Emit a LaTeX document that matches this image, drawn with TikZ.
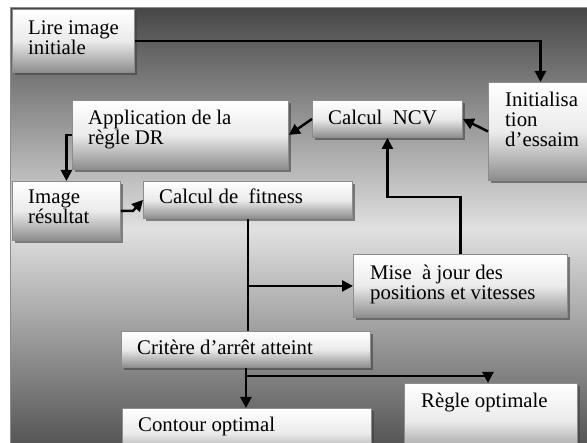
\documentclass[tikz,border=0pt]{standalone}
\usepackage{fontspec}
\setmainfont{Liberation Serif}
\usetikzlibrary{arrows.meta,shadows,calc}
\tikzset{
  box/.style={draw=black!45, line width=0.9pt, anchor=north west, inner sep=0pt,
    top color=white, bottom color=black!45, middle color=black!8,
    drop shadow={shadow xshift=3pt, shadow yshift=-3pt, fill=black!75, opacity=0.6}},
  txt/.style={anchor=base west, inner sep=0pt, font=\fontsize{20.8}{20}\selectfont},
  conn/.style={line width=2.4pt, -{Triangle[length=11pt,width=11pt]}},
  plain/.style={line width=2.4pt}
}
\begin{document}
\begin{tikzpicture}[x=1pt,y=-1pt]
\useasboundingbox (0,0) rectangle (587,443);
% background
\shade[shading angle=-45, top color=black!72, bottom color=black!68, middle color=black!12]
  (10,8) rectangle (600,450);
\draw[black!45, line width=1pt] (10,450) -- (10,8) -- (600,8);
% boxes
\node[box, minimum width=122pt, minimum height=63pt] (lire) at (12,9) {};
\node[box, minimum width=216pt, minimum height=69pt] (appl) at (72,100) {};
\node[box, minimum width=108pt, minimum height=59pt] (imgres) at (12,181) {};
\node[box, minimum width=209pt, minimum height=37pt] (fitness) at (143,181) {};
\node[box, minimum width=150pt, minimum height=37pt] (ncv) at (312,100) {};
\node[box, minimum width=104pt, minimum height=98pt] (init) at (488,82) {};
\node[box, minimum width=214pt, minimum height=63pt] (mise) at (353,254) {};
\node[box, minimum width=249pt, minimum height=36pt] (crit) at (121,331) {};
\node[box, minimum width=249pt, minimum height=50pt] (contour) at (122,408) {};
\node[box, minimum width=173pt, minimum height=75pt] (regle) at (404,383) {};
% texts
\node[txt] (t1a) at (28,35) {Lire image};
\node[txt] (t1b) at (28,55) {initiale};
\node[txt] (t2a) at (88,125) {Application de la};
\node[txt] (t2b) at (88,145) {règle DR};
\node[txt] (t3a) at (28,204) {Image};
\node[txt] (t3b) at (28,224) {résultat};
\node[txt] (t4) at (159,204) {Calcul de~ fitness};
\node[txt] (t5) at (328,125) {Calcul~ NCV};
\node[txt] (t6a) at (505,107) {Initialisa};
\node[txt] (t6b) at (505,127) {tion};
\node[txt] (t6c) at (505,147) {d’essaim};
\node[txt] (t7a) at (370,280) {Mise~ à jour des};
\node[txt] (t7b) at (370,300) {positions et vitesses};
\node[txt] (t8) at (137,355) {Critère d’arrêt atteint};
\node[txt] (t9) at (138,432) {Contour optimal};
\node[txt] (t10) at (421,408) {Règle optimale};
% connectors
\draw[conn] (lire.east) -| (init.north);
\draw[conn] (init.west) -- (ncv.east);
\draw[conn] (ncv.west) -- (appl.east);
\draw[conn] (appl.west) -| (imgres.north);
\draw[conn] (imgres.east) -- ++(12,0) -- (fitness.west);
\draw[plain] (fitness.south) -- (fitness.south |- crit.north);
\draw[conn] (fitness.south |- mise.west) -- (mise.west);
\draw[conn] (mise.north) -- ++(0,-57) -| (ncv.south);
\draw[conn] (crit.south) -- (crit.south |- contour.north);
\coordinate (rtop) at ($(regle.north)+(-3,0)$);
\draw[conn] (crit.south) -- ++(0,8) -| (rtop);
\end{tikzpicture}
\end{document}
